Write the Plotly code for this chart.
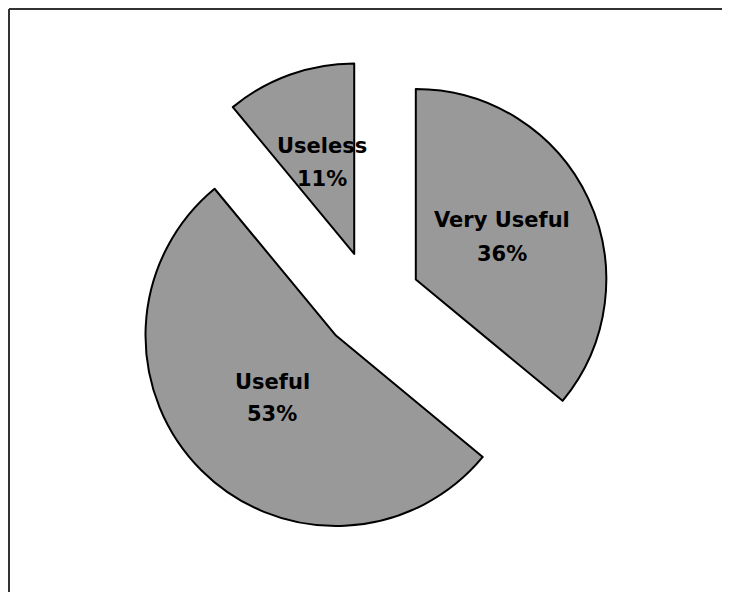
import plotly.graph_objects as go

labels = ["Very Useful", "Useful", "Useless"]
values = [36, 53, 11]
pulls = [0.26, 0.26, 0.26]

# label text positions (figure px, centre of name line / percent line)
label_x = [494, 264, 314]
name_y = [212, 374, 138]
pct_y = [246, 406, 171]

W, H = 730, 592

fig = go.Figure(go.Pie(
    labels=labels,
    values=values,
    pull=pulls,
    sort=False,
    direction="clockwise",
    rotation=0,
    textinfo="none",
    marker=dict(colors=["#999999"] * 3, line=dict(color="#000000", width=2)),
    domain=dict(x=[123 / W, 603 / W], y=[1 - 532.5 / H, 1 - 52.5 / H]),
    showlegend=False,
    hoverinfo="label+percent",
))

font = dict(family="DejaVu Sans", size=21, color="#000000", weight="bold")
total = sum(values)
for lab, v, x, y1, y2 in zip(labels, values, label_x, name_y, pct_y):
    fig.add_annotation(x=x / W, y=1 - y1 / H, xref="paper", yref="paper",
                       text=f"<b>{lab}</b>", showarrow=False, font=font,
                       xanchor="center", yanchor="middle")
    fig.add_annotation(x=x / W, y=1 - y2 / H, xref="paper", yref="paper",
                       text=f"<b>{round(100 * v / total)}%</b>", showarrow=False, font=font,
                       xanchor="center", yanchor="middle")

# chart border (top and left visible)
fig.add_shape(type="line", xref="paper", yref="paper", x0=1 / W, x1=1, y0=1 - 1 / H, y1=1 - 1 / H,
              line=dict(color="#333333", width=2))
fig.add_shape(type="line", xref="paper", yref="paper", x0=1 / W, x1=1 / W, y0=0, y1=1 - 1 / H,
              line=dict(color="#333333", width=2))

fig.update_layout(
    width=W, height=H,
    margin=dict(l=0, r=0, t=0, b=0),
    paper_bgcolor="#ffffff",
    plot_bgcolor="#ffffff",
)

fig.write_html("out.html")
